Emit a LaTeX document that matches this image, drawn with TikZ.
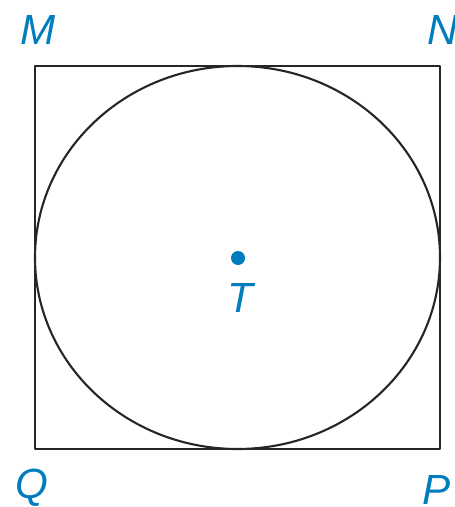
\documentclass[tikz,border=0pt]{standalone}
\usepackage{fontspec}
\setsansfont{Liberation Sans}
\usetikzlibrary{positioning}
\definecolor{ptblue}{RGB}{0,125,190}
\tikzset{
  vlabel/.style={text=ptblue, font=\sffamily\itshape\fontsize{24}{24}\selectfont, inner sep=0pt},
}

\begin{document}
\begin{tikzpicture}[x=0.02cm, y=-0.02cm, line join=round]
  \useasboundingbox (0,0) rectangle (454,507);
  % square and inscribed circle
  \coordinate (m) at (35,66);
  \coordinate (p) at (440,449);
  \draw[line width=1.5pt, color=black!85] (m) rectangle (p);
  \draw[line width=1.2pt, color=black!85] (237.5,257.5) ellipse [x radius=202.5, y radius=191.5];
  % centre
  \fill[ptblue] (238,258) circle (7);
  \node[vlabel] (T) at (240,298) {T};
  % vertices
  \node[vlabel] (M) at (38,30) {M};
  \node[vlabel] (N) at (443,30) {N};
  \node[vlabel] (Q) at (32,488) {Q};
  \node[vlabel] (P) at (437,490) {P};
\end{tikzpicture}
\end{document}
